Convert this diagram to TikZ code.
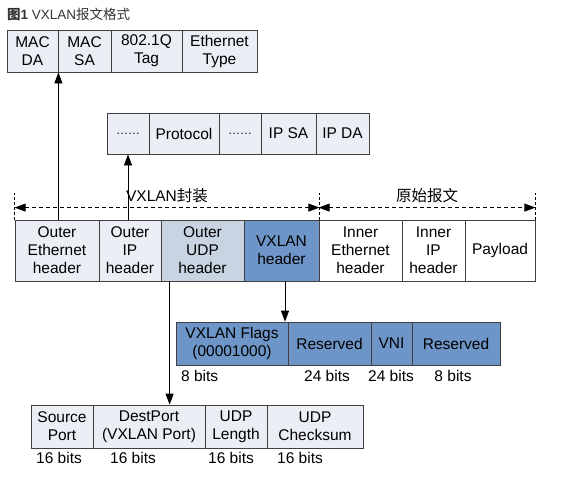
\documentclass[tikz,border=0pt]{standalone}
\usepackage{fontspec}
\setmainfont{Liberation Sans}
\newfontfamily\cjk{Noto Sans CJK SC}
\usetikzlibrary{arrows.meta}
\usepackage{xcolor}
\definecolor{edgegray}{RGB}{64, 64, 64}
\definecolor{paleblue}{RGB}{235, 239, 245}
\definecolor{midblue}{RGB}{201, 212, 227}
\definecolor{deepblue}{RGB}{110, 149, 200}
\definecolor{titlegray}{RGB}{51, 51, 51}

\tikzset{
    field/.style={draw=edgegray, line width=0.8pt, fill=paleblue, inner sep=0pt,
        align=center, font=\fontsize{15.5}{18}\selectfont},
    bits/.style={font=\fontsize{15.5}{18}\selectfont, inner sep=0pt},
    uparr/.style={draw=black, line width=0.8pt, -{Triangle[length=11pt, width=8pt]}},
    dimarr/.style={draw=black, line width=0.8pt, dash pattern=on 4pt off 3pt,
        {Triangle[length=11pt, width=8pt]}-{Triangle[length=11pt, width=8pt]}},
    tick/.style={draw=black, line width=0.8pt, dash pattern=on 3pt off 2pt}
}

\begin{document}
\begin{tikzpicture}[x=1pt, y=-1pt]
    % Canvas - same size as the reference
    \useasboundingbox (0,0) rectangle (580,493);

    % Title
    \node[anchor=west, inner sep=0pt, text=titlegray, font=\fontsize{13.5}{15}\selectfont] (title)
        at (7,14) {{\cjk\bfseries 图}\textbf{1} VXLAN{\cjk 报文格式}};

    % Outer Ethernet fields
    \node[field, minimum width=51, minimum height=42] (macda) at (32.5,51) {MAC\\DA};
    \node[field, minimum width=53, minimum height=42] (macsa) at (84.5,51) {MAC\\SA};
    \node[field, minimum width=71, minimum height=42] (qtag) at (146.5,51) {802.1Q\\Tag};
    \node[field, minimum width=75, minimum height=42] (ethtype) at (219.5,51) {Ethernet\\Type};

    % Outer IP fields
    \node[field, minimum width=42, minimum height=41] (dotsa) at (128,133.5) {\fontsize{12}{12}\selectfont ……};
    \node[field, minimum width=70, minimum height=41] (proto) at (184,133.5) {Protocol};
    \node[field, minimum width=42, minimum height=41] (dotsb) at (240,133.5) {\fontsize{12}{12}\selectfont ……};
    \node[field, minimum width=55, minimum height=41] (ipsa) at (288.5,133.5) {IP SA};
    \node[field, minimum width=53, minimum height=41] (ipda) at (342.5,133.5) {IP DA};

    % Whole packet
    \node[field, minimum width=84, minimum height=61] (oeth) at (57,250.5) {Outer\\Ethernet\\header};
    \node[field, minimum width=62, minimum height=61] (oip) at (130,250.5) {Outer\\IP\\header};
    \node[field, fill=midblue, minimum width=83, minimum height=61] (oudp) at (202.5,250.5) {Outer\\UDP\\header};
    \node[field, fill=deepblue, minimum width=75, minimum height=61] (vxh) at (281.5,250.5) {VXLAN\\header};
    \node[field, fill=white, minimum width=83, minimum height=61] (ieth) at (360.5,250.5) {Inner\\Ethernet\\header};
    \node[field, fill=white, minimum width=63, minimum height=61] (iip) at (433.5,250.5) {Inner\\IP\\header};
    \node[field, fill=white, minimum width=70, minimum height=61] (payload) at (500,250.5) {Payload};

    % Encapsulation marks
    \draw[tick] (oeth.north west) -- ++(0,-27);
    \draw[tick] (vxh.north east) -- ++(0,-27);
    \draw[tick] (payload.north east) -- ++(0,-27);
    \draw[dimarr] ([yshift=12]oeth.north west) -- ([yshift=12]vxh.north east)
        node[midway, above=1pt, font=\fontsize{15.5}{18}\selectfont] (enclabel) {VXLAN{\cjk 封装}};
    \draw[dimarr] ([yshift=12]ieth.north west) -- ([yshift=12]payload.north east)
        node[midway, above=1pt, font=\fontsize{15.5}{18}\cjk] (origlabel) {原始报文};

    % VXLAN header fields
    \node[field, fill=deepblue, minimum width=112, minimum height=43] (flags) at (232,343.5) {VXLAN Flags\\(00001000)};
    \node[field, fill=deepblue, minimum width=83, minimum height=43] (resa) at (329.5,343.5) {Reserved};
    \node[field, fill=deepblue, minimum width=41, minimum height=43] (vni) at (391.5,343.5) {VNI};
    \node[field, fill=deepblue, minimum width=88, minimum height=43] (resb) at (456,343.5) {Reserved};
    \node[bits, anchor=west] (flagbits) at (181,376) {8 bits};
    \node[bits] (resabits) at (327,376) {24 bits};
    \node[bits] (vnibits) at (391,376) {24 bits};
    \node[bits] (resbbits) at (453,376) {8 bits};

    % Outer UDP fields
    \node[field, minimum width=62, minimum height=43] (sport) at (62,426.5) {Source\\Port};
    \node[field, minimum width=112, minimum height=43] (dport) at (149,426.5) {DestPort\\(VXLAN Port)};
    \node[field, minimum width=62, minimum height=43] (ulen) at (236,426.5) {UDP\\Length};
    \node[field, minimum width=96, minimum height=43] (usum) at (315,426.5) {UDP\\Checksum};
    \node[bits] (sportbits) at (59,458) {16 bits};
    \node[bits] (dportbits) at (133,458) {16 bits};
    \node[bits] (ulenbits) at (231,458) {16 bits};
    \node[bits] (usumbits) at (300,458) {16 bits};

    % Pointers
    \draw[uparr] (oeth.north -| macda.south east) -- (macda.south east);
    \draw[uparr] (oip.north -| dotsa.south) -- (dotsa.south);
    \draw[uparr] ([xshift=3.5]vxh.south) -- ([xshift=3.5]vxh.south |- flags.north);
    \draw[uparr] ([xshift=9]oudp.south west) -- ([xshift=9]oudp.south west |- dport.north);
\end{tikzpicture}
\end{document}
